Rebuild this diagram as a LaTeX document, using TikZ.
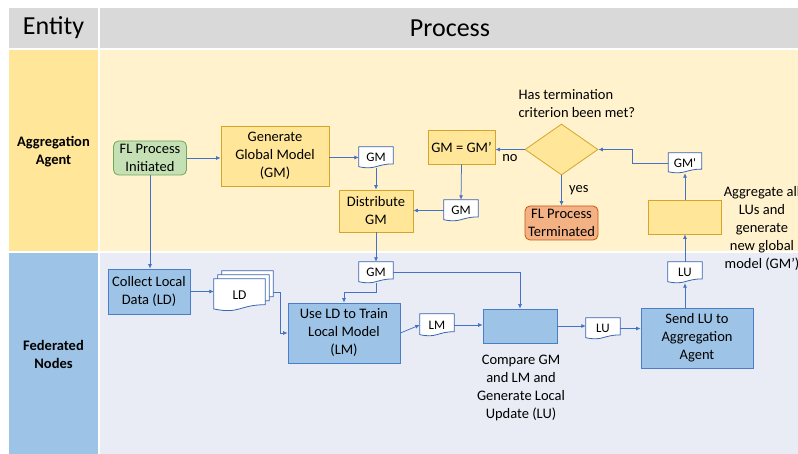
\documentclass[tikz,border=0pt]{standalone}
\usepackage{fontspec}
\setmainfont{Carlito}
\usetikzlibrary{arrows.meta,calc,shapes.geometric}

\definecolor{headgrey}{HTML}{D9D9D9}
\definecolor{ydark}{HTML}{FFE699}
\definecolor{ylight}{HTML}{FFF2CC}
\definecolor{bdark}{HTML}{9DC3E6}
\definecolor{blight}{HTML}{E9EBF5}
\definecolor{yfill}{HTML}{FFE699}
\definecolor{ygold}{HTML}{D4A52A}
\definecolor{bfill}{HTML}{9DC3E6}
\definecolor{bline}{HTML}{4A7EC8}
\definecolor{gfill}{HTML}{C5E0B4}
\definecolor{gline}{HTML}{6FA85A}
\definecolor{ofill}{HTML}{F4B183}
\definecolor{oline}{HTML}{C55A11}
\definecolor{aline}{HTML}{4472C4}
\definecolor{dline}{HTML}{3A64B0}

\pgfdeclarelayer{bg}
\pgfsetlayers{bg,main}

% document shape behind a doc node, optional shift up-right
\newcommand{\docshape}[2][0]{%
  \draw[docline] ($(#2.north west)+(#1,-#1)$) -- ($(#2.north east)+(#1,-#1)$)
    -- ($(#2.north east)!0.8!(#2.south east)+(#1,-#1)$)
    .. controls ($(#2.north)!0.8!(#2.south)+(#1,-#1)$) and ($(#2.north)!1.1!(#2.south)+(#1,-#1)$)
    .. ($(#2.north west)!0.93!(#2.south west)+(#1,-#1)$) -- cycle;}

\begin{document}
\begin{tikzpicture}[x=1pt,y=-1pt,
  txt/.style={font=\fontsize{14.5}{18}\selectfont, align=center},
  ybox/.style={txt, draw=ygold, fill=yfill, line width=0.8pt, inner sep=1pt},
  bbox/.style={txt, draw=bline, fill=bfill, line width=0.8pt, inner sep=1pt},
  docnode/.style={font=\fontsize{13}{15}\selectfont, inner sep=0pt, minimum width=34pt, minimum height=21pt},
  docline/.style={draw=dline, fill=white, line width=0.8pt},
  flow/.style={draw=aline, line width=0.75pt, -{Latex[length=4.5pt,width=4pt]}},
  lane/.style={font=\bfseries\fontsize{14.5}{18}\selectfont, align=center},
  head/.style={font=\fontsize{26}{30}\selectfont}]
\useasboundingbox (0,0) rectangle (798,454);
\clip (0,0) rectangle (798,454);

% Lanes
\begin{pgfonlayer}{bg}
\fill[headgrey] (9,8) rectangle (98,48);
\fill[headgrey] (100,8) rectangle (798,48);
\fill[ydark] (9,50) rectangle (98,251.5);
\fill[ylight] (100,50) rectangle (798,251.5);
\fill[bdark] (9,253) rectangle (98,454);
\fill[blight] (100,253) rectangle (798,454);
\end{pgfonlayer}
\node[head] (entity) at (53.5,28) {Entity};
\node[head] (process) at (450,28) {Process};
\node[lane] (agent) at (53.5,152) {Aggregation\\Agent};
\node[lane] (fed) at (53.5,354) {Federated\\Nodes};

% Aggregation agent
\node[txt, draw=gline, fill=gfill, line width=0.8pt, rounded corners=5pt, minimum width=73pt, minimum height=34pt, inner sep=1pt] (start) at (150,158) {FL Process\\Initiated};
\node[ybox, minimum width=108pt, minimum height=60pt] (gengm) at (275,156) {Generate\\Global Model\\(GM)};
\node[docnode] (gma) at (376,157.5) {GM};
\node[ybox, minimum width=74pt, minimum height=42pt] (dist) at (376,211) {Distribute\\GM};
\node[docnode] (gmb) at (461,210.5) {GM};
\node[ybox, minimum width=67pt, minimum height=34pt] (gmeq) at (461.5,147) {GM = GM’};
\node[diamond, draw=ygold, fill=yfill, line width=0.8pt, aspect=1.43, minimum width=73pt, minimum height=51pt, inner sep=0pt] (dec) at (561.5,149.5) {};
\node[txt, align=left, anchor=west] (quest) at (515,103.5) {Has termination\\criterion been met?};
\node[txt, draw=oline, fill=ofill, line width=0.8pt, rounded corners=5pt, minimum width=73pt, minimum height=34pt, inner sep=1pt] (term) at (561.5,223) {FL Process\\Terminated};
\node[docnode, minimum width=33pt, minimum height=20pt] (gmp) at (685,163) {GM\textquotesingle};
\node[ybox, minimum width=73pt, minimum height=34pt] (agg) at (685,217) {};
\node[txt] (aggtxt) at (762,228.5) {Aggregate all\\LUs and\\generate\\new global\\model (GM’)};

% Federated nodes
\node[bbox, minimum width=82pt, minimum height=45pt] (collect) at (149,291.5) {Collect Local\\Data (LD)};
\node[docnode, font=\fontsize{13.5}{15}\selectfont, minimum width=51pt, minimum height=32pt] (ld) at (239.5,295) {LD};
\node[bbox, minimum width=112pt, minimum height=60pt] (train) at (344,333) {Use LD to Train\\Local Model\\(LM)};
\node[docnode] (gmc) at (376,272.5) {GM};
\node[docnode, minimum height=22pt] (lm) at (437,325) {LM};
\node[bbox, minimum width=74pt, minimum height=34pt] (cmp) at (520,326) {};
\node[txt] (cmptxt) at (521,387.5) {Compare GM\\and LM and\\Generate Local\\Update (LU)};
\node[docnode] (lub) at (603,328.5) {LU};
\node[bbox, minimum width=112pt, minimum height=60pt] (send) at (697,338) {Send LU to\\Aggregation\\Agent};
\node[docnode] (lua) at (685,272.5) {LU};

% Document shapes
\begin{pgfonlayer}{bg}
\foreach \d in {gma,gmb,gmc,gmp,lua,lub,lm} {\docshape{\d}}
\docshape[8]{ld}
\docshape[4]{ld}
\docshape{ld}
\end{pgfonlayer}

% Arrows
\draw[flow] (start.east) -- (start.east -| gengm.west);
\draw[flow] (gma.west -| gengm.east) -- (gma.west);
\draw[flow] (gma.south) -- (dist.north);
\draw[flow] (start.south) -- (start.south |- collect.north);
\draw[flow] (dist.south) -- (gmc.north);
\draw[flow] (gmc.south) -- ++(0,9) -| (train.north);
\draw[flow] (gmc.east) -| (cmp.north);
\draw[flow] (collect.east) -- (collect.east -| ld.west);
\draw[flow] ([xshift=8pt,yshift=3pt]ld.east) -- ++(7,0) |- (train.west);
\draw[flow] (train.east) -- (lm.west);
\draw[flow] (lm.east) -- (lm.east -| cmp.west);
\draw[flow] (cmp.east) -- (cmp.east -| lub.west);
\draw[flow] (lub.east) -- (lub.east -| send.west);
\draw[flow] (lua.south |- send.north) -- (lua.south);
\draw[flow] (lua.north) -- (agg.south);
\draw[flow] (agg.north) -- (gmp.south);
\draw[flow] (gmp.west) -- ++(-36,0) |- (dec.east);
\draw[flow] (dec.west) -- (dec.west -| gmeq.east) node[txt, midway, below=1pt] (no) {no};
\draw[flow] (dec.south) -- (term.north) node[txt, midway, right=4pt] (yes) {yes};
\draw[flow] (gmeq.south) -- (gmb.north);
\draw[flow] (gmb.west) -- (gmb.west -| dist.east);

\end{tikzpicture}
\end{document}
